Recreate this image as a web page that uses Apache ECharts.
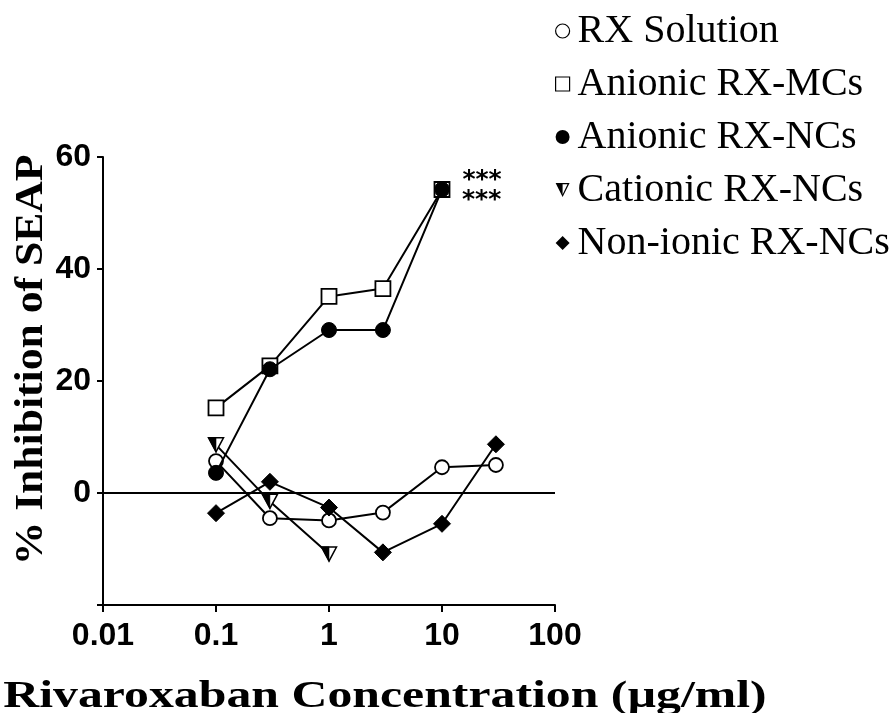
<!DOCTYPE html>
<html>
<head>
<meta charset="utf-8">
<script src="https://cdn.jsdelivr.net/npm/echarts@6/dist/echarts.min.js"></script>
<style>
  html, body { margin: 0; padding: 0; background: #fff; }
  #chart { width: 894px; height: 713px; }
</style>
</head>
<body>
<div id="chart"></div>
<script>
// Rivaroxaban concentrations (µg/ml) and % inhibition of SEAP per formulation
const concRX = [0.1, 0.3, 1, 3, 10, 30];
const rxSolution = [5.7, -4.5, -4.9, -3.5, 4.6, 5.0];

const concMC = [0.1, 0.3, 1, 3, 10];
const anionicMCs = [15.2, 22.7, 35.1, 36.5, 54.2];
const anionicNCs = [3.6, 22.1, 29.1, 29.1, 54.2];

const concCat = [0.1, 0.3, 1];
const cationicNCs = [8.6, -1.5, -10.9];

const concNon = [0.1, 0.3, 1, 3, 10, 30];
const nonionicNCs = [-3.6, 2.0, -2.6, -10.6, -5.5, 8.7];

const xTicks = [0.01, 0.1, 1, 10, 100];
const yTicks = [-20, 0, 20, 40, 60];
const seriesNames = ['RX Solution', 'Anionic RX-MCs', 'Anionic RX-NCs', 'Cationic RX-NCs', 'Non-ionic RX-NCs'];
const xTitle = 'Rivaroxaban Concentration (µg/ml)';
const yTitle = '% Inhibition of SEAP';
const significance = '***';

const pairs = (xs, ys) => xs.map((x, i) => [x, ys[i]]);

// Down-pointing triangle, left half solid, right half outlined
const triFull = 'path://M0,0 L10,0 L5,10 Z';
const triLeft = 'path://M0,0 L5,0 L5,10 Z';
const triHalf = 'path://M0,0 L5,0 L5,10 Z M5,0 L10,0 L5,10 L5,8.3 L8.5,0.9 L5,0.9 Z';

const lineStyle = { color: '#000', width: 2 };
const openItem = { color: '#fff', borderColor: '#000', borderWidth: 1.8 };
const solidItem = { color: '#000', borderColor: '#000', borderWidth: 1 };
const starLabel = { fontFamily: 'DejaVu Sans', fontWeight: 'bold', fontSize: 25, color: '#000' };

const chart = echarts.init(document.getElementById('chart'));
chart.setOption({
  animation: false,
  backgroundColor: '#fff',
  grid: { left: 103, right: 339, top: 157, bottom: 108, containLabel: false, outerBoundsMode: 'none' },
  legend: {
    orient: 'vertical',
    left: 555,
    top: 11,
    padding: 0,
    itemWidth: 14,
    itemHeight: 14,
    itemGap: 13,
    textStyle: { fontFamily: 'Liberation Serif', fontSize: 40, lineHeight: 40, color: '#000', padding: [0, 0, 0, 3] },
    data: [
      { name: seriesNames[0], icon: 'circle', itemStyle: { color: '#fff', borderColor: '#000', borderWidth: 1.2 } },
      { name: seriesNames[1], icon: 'rect', itemStyle: { color: '#fff', borderColor: '#000', borderWidth: 1.2 } },
      { name: seriesNames[2], icon: 'circle', itemStyle: { color: '#000', borderColor: '#000', borderWidth: 0 } },
      { name: seriesNames[3], icon: triHalf, itemStyle: { color: '#000', borderColor: '#000', borderWidth: 0 } },
      { name: seriesNames[4], icon: 'diamond', itemStyle: { color: '#000', borderColor: '#000', borderWidth: 0 } }
    ]
  },
  graphic: [
    {
      type: 'text',
      x: 385,
      y: 697,
      scaleX: 1.31,
      silent: true,
      style: { text: xTitle, font: 'bold 38px "Liberation Serif"', fill: '#000', align: 'center', verticalAlign: 'middle' }
    },
    {
      type: 'text',
      x: 32,
      y: 360,
      rotation: Math.PI / 2,
      scaleX: 1.09,
      silent: true,
      style: { text: yTitle, font: 'bold 40px "Liberation Serif"', fill: '#000', align: 'center', verticalAlign: 'middle' }
    }
  ],
  xAxis: {
    type: 'log',
    logBase: 10,
    min: xTicks[0],
    max: xTicks[xTicks.length - 1],
    axisLine: { show: true, onZero: false, lineStyle: { color: '#000', width: 2 } },
    axisTick: { show: true, inside: false, length: 7, lineStyle: { color: '#000', width: 2 } },
    minorTick: { show: false },
    splitLine: { show: false },
    axisLabel: {
      margin: 15,
      fontFamily: 'Liberation Sans',
      fontWeight: 'bold',
      fontSize: 32,
      color: '#000',
      formatter: v => String(+Number(v).toPrecision(3))
    }
  },
  yAxis: {
    type: 'value',
    min: yTicks[0],
    max: yTicks[yTicks.length - 1],
    interval: 20,
    axisLine: { show: true, onZero: false, lineStyle: { color: '#000', width: 2 } },
    axisTick: { show: true, inside: false, length: 6, lineStyle: { color: '#000', width: 2 } },
    splitLine: { show: false },
    axisLabel: {
      margin: 12,
      fontFamily: 'Liberation Sans',
      fontWeight: 'bold',
      fontSize: 32,
      color: '#000',
      formatter: v => (v === yTicks[0] ? '' : String(v))
    }
  },
  series: [
    {
      name: seriesNames[0],
      type: 'line',
      data: pairs(concRX, rxSolution),
      symbol: 'circle',
      symbolSize: 14,
      lineStyle,
      itemStyle: openItem,
      z: 2,
      markLine: {
        silent: true,
        symbol: 'none',
        label: { show: false },
        lineStyle: { color: '#000', width: 2, type: 'solid' },
        data: [{ yAxis: 0 }]
      }
    },
    {
      name: seriesNames[1],
      type: 'line',
      data: pairs(concMC, anionicMCs).map((p, i) => i === concMC.length - 1
        ? { value: p, label: { show: true, position: 'right', offset: [7, -9], formatter: significance } }
        : p),
      symbol: 'rect',
      symbolSize: 15,
      lineStyle,
      itemStyle: openItem,
      label: starLabel,
      z: 3
    },
    {
      name: seriesNames[2],
      type: 'line',
      data: pairs(concMC, anionicNCs).map((p, i) => i === concMC.length - 1
        ? { value: p, label: { show: true, position: 'right', offset: [7, 11], formatter: significance } }
        : p),
      symbol: 'circle',
      symbolSize: 15,
      lineStyle,
      itemStyle: solidItem,
      label: starLabel,
      z: 4
    },
    {
      name: seriesNames[3],
      type: 'line',
      data: pairs(concCat, cationicNCs),
      symbol: triFull,
      symbolSize: [15, 14],
      lineStyle,
      itemStyle: { color: '#fff', borderColor: '#000', borderWidth: 1.5 },
      z: 5
    },
    {
      // solid left half of the cationic markers
      name: seriesNames[3] + ' fill',
      type: 'line',
      data: pairs(concCat, cationicNCs),
      symbol: triLeft,
      symbolSize: [7.5, 14],
      symbolOffset: [-3.75, 0],
      showSymbol: true,
      lineStyle: { width: 0, opacity: 0 },
      itemStyle: { color: '#000', borderColor: '#000', borderWidth: 0.8 },
      silent: true,
      z: 6
    },
    {
      name: seriesNames[4],
      type: 'line',
      data: pairs(concNon, nonionicNCs),
      symbol: 'diamond',
      symbolSize: 17,
      lineStyle,
      itemStyle: solidItem,
      z: 7
    }
  ]
});
</script>
</body>
</html>
